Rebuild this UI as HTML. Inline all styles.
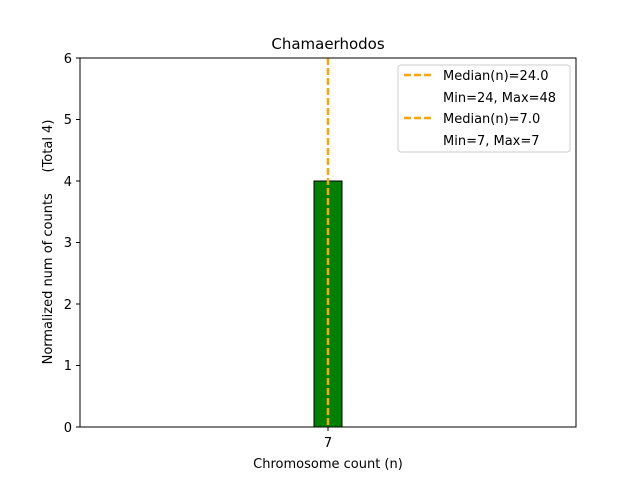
<!DOCTYPE html>
<html><head><meta charset="utf-8"><style>html,body{margin:0;padding:0;background:#fff}</style></head>
<body>
<svg width="640" height="480" xmlns="http://www.w3.org/2000/svg" font-family="'DejaVu Sans','Liberation Sans',sans-serif" font-size="13">
<rect width="640" height="480" fill="#fff"/>
<rect x="314" y="181" width="28" height="246" fill="#008000" stroke="#000" stroke-width="1"/>
<line x1="328" y1="58" x2="328" y2="427" stroke="#ffa500" stroke-width="2.5" stroke-dasharray="7,3"/>
<rect x="80" y="58" width="496" height="369" fill="none" stroke="#000" stroke-width="1"/>
<g stroke="#000">
<line x1="76" y1="427" x2="80" y2="427"/><line x1="76" y1="365.5" x2="80" y2="365.5"/>
<line x1="76" y1="304" x2="80" y2="304"/><line x1="76" y1="242.5" x2="80" y2="242.5"/>
<line x1="76" y1="181" x2="80" y2="181"/><line x1="76" y1="119.5" x2="80" y2="119.5"/>
<line x1="76" y1="58" x2="80" y2="58"/><line x1="328" y1="427" x2="328" y2="431"/>
</g>
<g text-anchor="end" font-size="13">
<text x="72" y="432">0</text><text x="72" y="370">1</text><text x="72" y="309">2</text>
<text x="72" y="247">3</text><text x="72" y="186">4</text><text x="72" y="124">5</text><text x="72" y="63">6</text>
</g>
<text x="328" y="447" text-anchor="middle">7</text>
<text x="328" y="468" text-anchor="middle">Chromosome count (n)</text>
<text x="328" y="49" text-anchor="middle" font-size="15">Chamaerhodos</text>
<text transform="translate(52,242) rotate(-90)" text-anchor="middle" xml:space="preserve">Normalized num of counts     (Total 4)</text>
<rect x="398" y="65" width="172" height="87" rx="3" fill="#fff" stroke="#ccc"/>
<line x1="404" y1="75" x2="432" y2="75" stroke="#ffa500" stroke-width="2.5" stroke-dasharray="7,3"/>
<line x1="404" y1="118" x2="432" y2="118" stroke="#ffa500" stroke-width="2.5" stroke-dasharray="7,3"/>
<text x="443" y="80">Median(n)=24.0</text>
<text x="443" y="102">Min=24, Max=48</text>
<text x="443" y="123">Median(n)=7.0</text>
<text x="443" y="145">Min=7, Max=7</text>
</svg>
</body></html>
